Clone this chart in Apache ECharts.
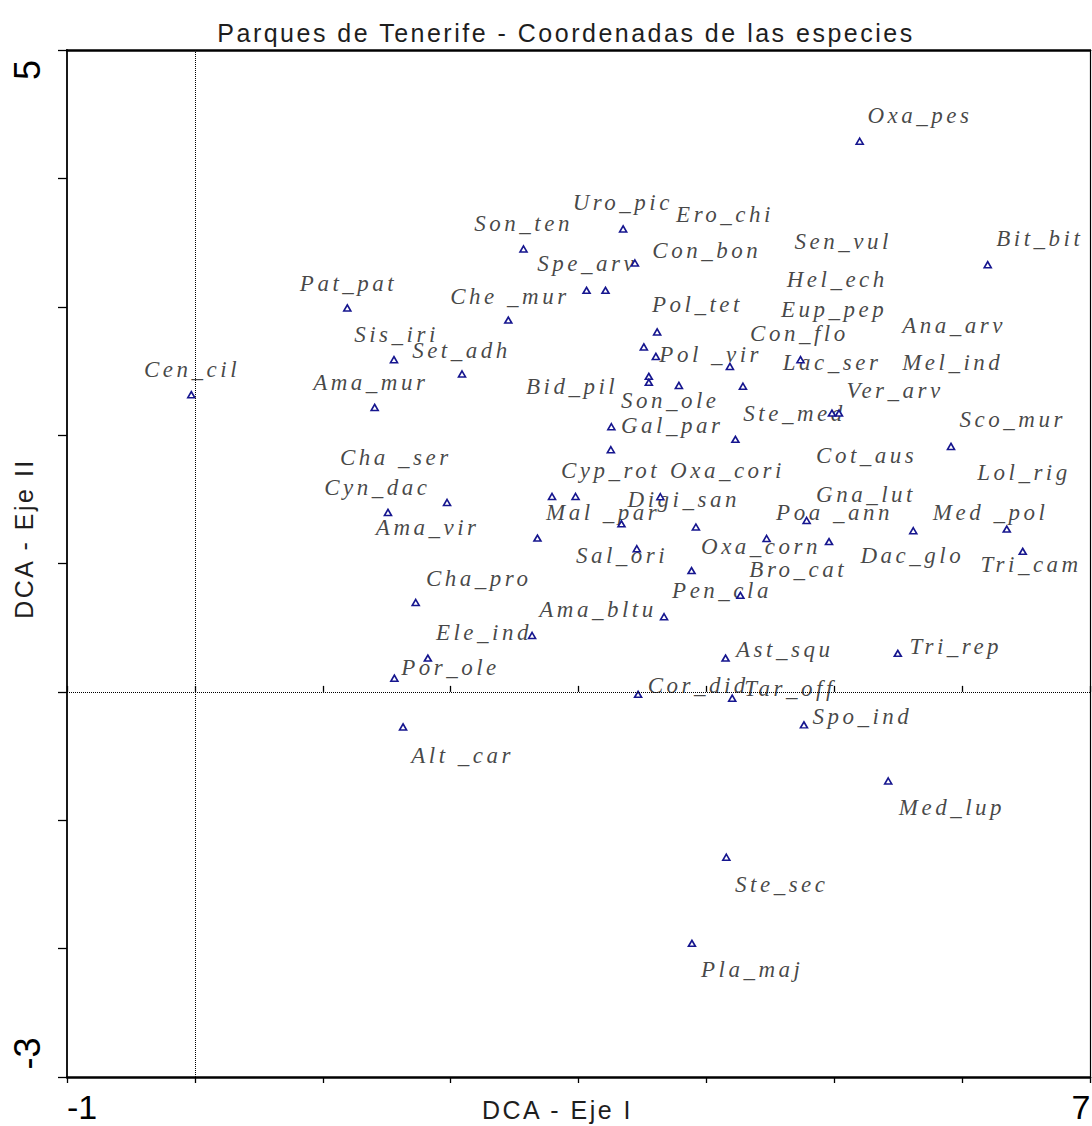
<!DOCTYPE html>
<html>
<head>
<meta charset="utf-8">
<script src="https://cdn.jsdelivr.net/npm/echarts@6/dist/echarts.min.js"></script>
<style>
html,body{margin:0;padding:0;background:#fff}
#chart{width:1092px;height:1126px}
#chart text[style*="italic"]{letter-spacing:3.5px}
#chart text[style*="Liberation Sans"]{letter-spacing:2.5px}
</style>
</head>
<body>
<div id="chart"></div>
<script>
// Species coordinates (DCA axis I, axis II)
const pointX = [-0.028,1.192,1.557,2.089,1.406,2.451,2.570,3.349,3.441,3.063,3.211,5.199,6.200,3.615,3.511,3.605,4.184,4.736,3.550,3.550,3.785,4.286,4.982,5.037,3.257,4.227,5.913,3.253,1.972,2.793,2.977,3.640,1.510,3.336,3.918,4.784,5.618,6.349,2.679,4.471,4.959,3.456,6.474,3.884,1.727,4.266,3.669,2.637,1.822,4.150,5.497,1.560,3.466,4.202,1.628,4.763,5.422,4.156,3.887];
const pointY = [2.315,2.991,2.588,2.476,2.216,2.896,3.450,3.606,3.341,3.128,3.128,4.289,3.328,2.804,2.687,2.613,2.535,2.588,2.458,2.411,2.387,2.381,2.172,2.172,2.065,1.967,1.912,1.886,1.475,1.522,1.522,1.520,1.398,1.309,1.284,1.335,1.255,1.268,1.198,1.195,1.171,1.115,1.095,0.945,0.696,0.752,0.585,0.439,0.263,0.263,0.300,0.107,-0.019,-0.049,-0.273,-0.257,-0.694,-1.288,-1.959];

// Species labels and their anchor coordinates (in axis units)
const labelText = ['Oxa_pes','Uro_pic','Ero_chi','Son_ten','Con_bon','Sen_vul','Bit_bit','Spe_arv','Hel_ech','Pat_pat','Che _mur','Pol_tet','Eup_pep','Ana_arv','Sis_iri','Con_flo','Set_adh','Pol _vir','Cen_cil','Lac_ser','Mel_ind','Ama_mur','Bid_pil','Ver_arv','Son_ole','Ste_med','Sco_mur','Gal_par','Cha _ser','Cot_aus','Cyp_rot','Oxa_cori','Lol_rig','Cyn_dac','Digi_san','Gna_lut','Mal _par','Poa _ann','Med _pol','Ama_vir','Oxa_corn','Dac_glo','Sal_ori','Bro_cat','Tri_cam','Cha_pro','Pen_cla','Ama_bltu','Ele_ind','Ast_squ','Tri_rep','Por_ole','Cor_did','Tar_off','Spo_ind','Alt _car','Med_lup','Ste_sec','Pla_maj'];
const labelX = [5.264,2.958,3.767,2.189,3.581,4.693,6.271,2.682,4.632,0.825,2.001,3.579,4.588,5.535,1.250,4.346,1.703,3.636,-0.394,4.601,5.535,0.929,2.593,5.099,3.336,4.293,5.984,3.336,1.138,4.862,2.867,3.720,6.122,1.015,3.388,4.862,2.750,4.549,5.775,1.419,3.962,5.209,2.984,4.340,6.148,1.811,3.736,2.697,1.889,4.236,5.592,1.617,3.545,4.301,4.833,1.696,5.509,4.228,3.962];
const labelY = [4.482,3.809,3.712,3.648,3.432,3.502,3.528,3.334,3.211,3.180,3.079,3.016,2.977,2.847,2.777,2.790,2.652,2.627,2.510,2.562,2.562,2.408,2.377,2.346,2.263,2.167,2.120,2.068,1.820,1.834,1.717,1.717,1.705,1.588,1.496,1.535,1.393,1.393,1.393,1.276,1.132,1.055,1.055,0.951,0.990,0.878,0.782,0.639,0.458,0.327,0.353,0.183,0.043,0.023,-0.195,-0.499,-0.906,-1.504,-2.167];

// Axis tick labels shown
const xTickLabels = [-1, 7];
const yTickLabels = [-3, 5];

const chart = echarts.init(document.getElementById('chart'), null, {renderer: 'svg'});

const tickFont = {fontFamily: 'Arial', fontSize: 34, lineHeight: 28, color: '#000'};
const yTickFont = {fontFamily: 'Arial', fontSize: 36, lineHeight: 28, color: '#000'};

const option = {
  animation: false,
  backgroundColor: '#fff',
  title: {
    text: 'Parques de Tenerife - Coordenadas de las especies',
    left: 566, top: 20, textAlign: 'center', padding: 0,
    textStyle: {fontFamily: 'Liberation Sans', fontSize: 25, fontWeight: 'normal', color: '#1e1e1e'}
  },
  grid: {left: 67, right: 2, top: 50, bottom: 49, containLabel: false, outerBoundsMode: 'none'},
  xAxis: [
    {
      type: 'value', min: -1, max: 7, interval: 1, position: 'bottom',
      axisLine: {show: true, onZero: false, lineStyle: {color: '#000', width: 2.5}},
      axisTick: {show: true, length: 6, lineStyle: {color: '#000', width: 1.3}},
      splitLine: {show: false},
      axisLabel: {
        margin: 16,
        formatter: v => v === xTickLabels[0] ? '{l|' + v + '}' : (v === xTickLabels[1] ? '{r|' + v + '}' : ''),
        rich: {
          l: Object.assign({padding: [0, 0, 0, 30]}, tickFont),
          r: Object.assign({padding: [0, 18, 0, 0]}, tickFont)
        }
      },
      name: 'DCA - Eje I', nameLocation: 'middle', nameGap: 20, nameMoveOverlap: false,
      nameTextStyle: {fontFamily: 'Liberation Sans', fontSize: 25, color: '#1e1e1e', padding: [0, 42, 0, 0]}
    },
    {
      type: 'value', min: -1, max: 7, interval: 1, position: 'bottom',
      axisLine: {show: false},
      axisTick: {show: true, inside: true, length: 6, lineStyle: {color: '#000', width: 1.3}},
      axisLabel: {show: false}, splitLine: {show: false}
    },
    {
      type: 'value', min: -1, max: 7, interval: 1, position: 'top',
      axisLine: {show: true, onZero: false, lineStyle: {color: '#000', width: 2.5}},
      axisTick: {show: false}, axisLabel: {show: false}, splitLine: {show: false}
    }
  ],
  yAxis: [
    {
      type: 'value', min: -3, max: 5, interval: 1, position: 'left',
      axisLine: {show: true, onZero: false, lineStyle: {color: '#000', width: 1.8}},
      axisTick: {show: true, length: 9, lineStyle: {color: '#000', width: 1.3}},
      splitLine: {show: false},
      axisLabel: {
        rotate: 90, margin: 26,
        formatter: v => v === yTickLabels[1] ? '{t|' + v + '}' : (v === yTickLabels[0] ? '{b|' + v + '}' : ''),
        rich: {
          t: Object.assign({padding: [0, 40, 0, 0]}, yTickFont),
          b: Object.assign({padding: [0, 0, 0, 47]}, yTickFont)
        }
      },
      name: 'DCA - Eje II', nameLocation: 'middle', nameRotate: 90, nameGap: 31, nameMoveOverlap: false,
      nameTextStyle: {fontFamily: 'Liberation Sans', fontSize: 25, color: '#1e1e1e', padding: [0, 0, 0, 50]}
    },
    {
      type: 'value', min: -3, max: 5, interval: 1, position: 'right',
      axisLine: {show: true, onZero: false, lineStyle: {color: '#000', width: 1.2}},
      axisTick: {show: false}, axisLabel: {show: false}, splitLine: {show: false}
    }
  ],
  series: [
    {
      type: 'scatter', silent: true, z: 3,
      data: pointX.map((x, i) => [x, pointY[i]]),
      symbol: 'triangle', symbolSize: [7, 6],
      itemStyle: {color: '#fff', borderColor: '#16168f', borderWidth: 1.6, opacity: 1},
      markLine: {
        silent: true, symbol: 'none', label: {show: false},
        lineStyle: {color: '#000', type: 'dotted', width: 1},
        data: [{xAxis: 0}, {yAxis: 0}]
      }
    },
    {
      type: 'scatter', silent: true, z: 2,
      data: labelText.map((t, i) => ({name: t, value: [labelX[i], labelY[i]]})),
      symbolSize: 1,
      itemStyle: {color: 'rgba(0,0,0,0)'},
      label: {
        show: true, position: [0, 0], align: 'left', verticalAlign: 'middle',
        formatter: '{b}',
        fontFamily: 'Liberation Serif', fontStyle: 'italic', fontSize: 23, color: '#161616'
      }
    }
  ]
};
chart.setOption(option);
</script>
</body>
</html>
